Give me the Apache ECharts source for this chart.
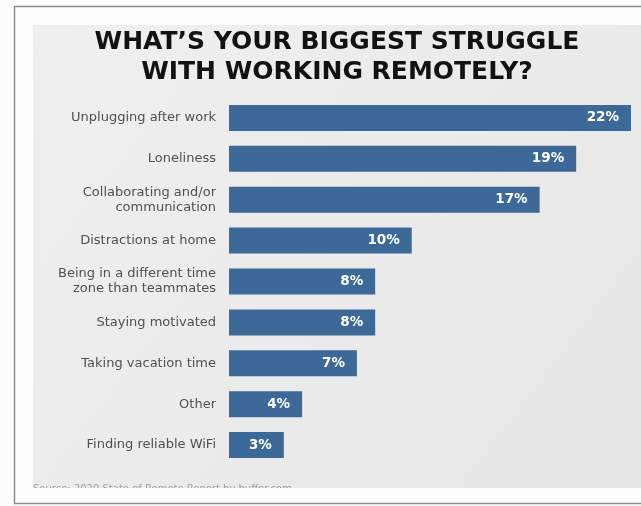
<!DOCTYPE html>
<html>
<head>
<meta charset="utf-8">
<script src="https://cdn.jsdelivr.net/npm/echarts@6/dist/echarts.min.js"></script>
<style>
  html, body { margin: 0; padding: 0; background: #fcfcfc; }
  #chart { width: 641px; height: 506px; }
</style>
</head>
<body>
<div id="chart"></div>
<script>
// Survey answers, top to bottom
const categories = [
  'Unplugging after work',
  'Loneliness',
  'Collaborating and/or\ncommunication',
  'Distractions at home',
  'Being in a different time\nzone than teammates',
  'Staying motivated',
  'Taking vacation time',
  'Other',
  'Finding reliable WiFi'
];
const shares = [22, 19, 17, 10, 8, 8, 7, 4, 3];

const chart = echarts.init(document.getElementById('chart'));

chart.setOption({
  backgroundColor: '#fcfcfc',
  animation: false,
  title: {
    text: 'WHAT\u2019S YOUR BIGGEST STRUGGLE\nWITH WORKING REMOTELY?',
    left: 337,
    top: 27,
    padding: 0,
    textAlign: 'center',
    textStyle: {
      fontFamily: 'DejaVu Sans',
      fontWeight: 'bold',
      fontSize: 25,
      lineHeight: 30,
      color: '#121212'
    }
  },
  graphic: {
    elements: [
      // card frame and paper panel
      { type: 'rect', z: -10, silent: true,
        shape: { x: 14.5, y: 6.5, width: 640, height: 497 },
        style: { fill: '#fdfdfd', stroke: '#8c8c8c', lineWidth: 1.5 } },
      { type: 'rect', z: -9, silent: true,
        shape: { x: 33, y: 25, width: 608, height: 463 },
        style: {
          fill: {
            type: 'linear', x: 0, y: 0, x2: 1, y2: 1,
            colorStops: [
              { offset: 0, color: '#efefef' },
              { offset: 0.5, color: '#ebebeb' },
              { offset: 1, color: '#e6e6e6' }
            ]
          }
        } },
      // source line, cut off by the bottom edge of the panel
      { type: 'group', silent: true,
        clipPath: { type: 'rect', shape: { x: 0, y: 0, width: 641, height: 488 } },
        children: [
          { type: 'text', x: 33, y: 484,
            style: { text: 'Source: 2020 State of Remote Report by buffer.com',
                     verticalAlign: 'top', align: 'left',
                     fill: '#a0a0a0', fontSize: 10, fontFamily: 'DejaVu Sans' } }
        ] }
    ]
  },
  grid: {
    left: 229,
    right: 10,
    top: 97.5,
    height: 368,
    containLabel: false
  },
  xAxis: {
    type: 'value',
    min: 0,
    max: 22,
    show: false
  },
  yAxis: {
    type: 'category',
    data: categories,
    inverse: true,
    axisLine: { show: false },
    axisTick: { show: false },
    axisLabel: {
      margin: 13,
      color: '#505050',
      fontFamily: 'DejaVu Sans',
      fontSize: 13,
      lineHeight: 15,
      align: 'right'
    }
  },
  series: [{
    type: 'bar',
    data: shares,
    barWidth: 26,
    itemStyle: { color: '#3c6997' },
    label: {
      show: true,
      position: 'insideRight',
      distance: 12,
      formatter: '{c}%',
      color: '#ffffff',
      fontFamily: 'DejaVu Sans',
      fontWeight: 'bold',
      fontSize: 13.5
    }
  }]
});
</script>
</body>
</html>
